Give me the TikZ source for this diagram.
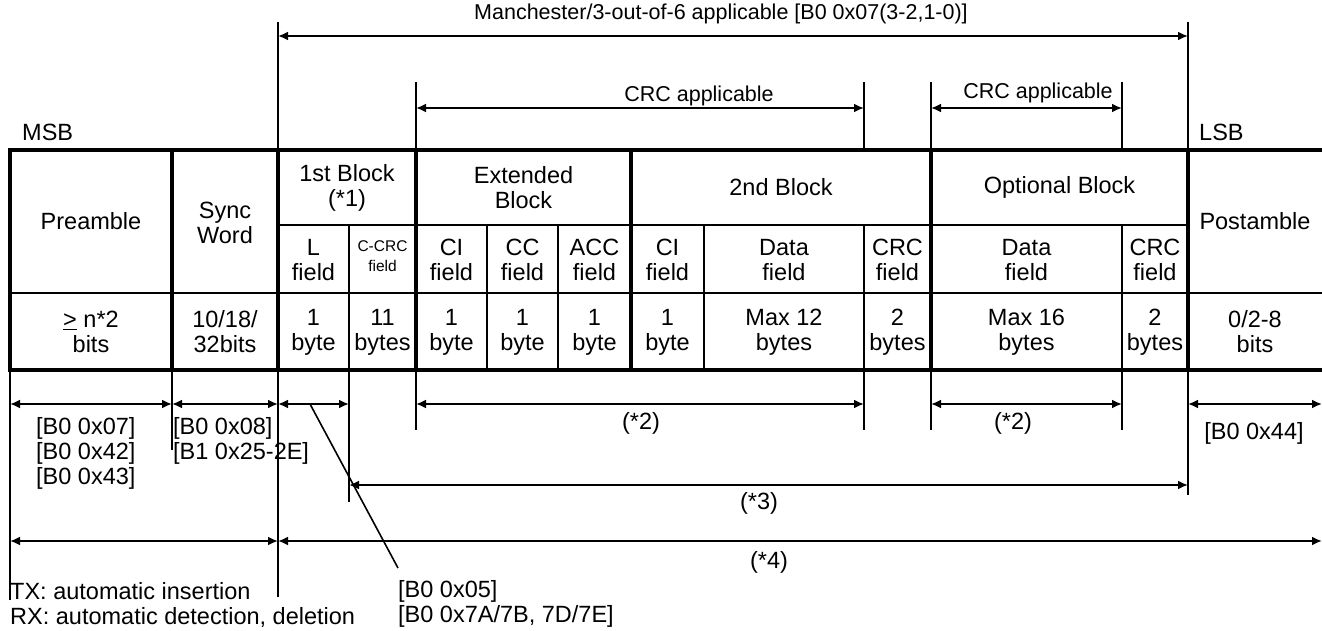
\documentclass[tikz,border=0pt]{standalone}
\usepackage{fontspec}
\setmainfont{Liberation Sans}
\usetikzlibrary{arrows.meta, positioning}
\tikzstyle{cell} = [align=center, inner sep=0pt, font=\fontsize{23.5}{25}\selectfont]
\tikzstyle{smallcell} = [align=center, inner sep=0pt, font=\fontsize{15.5}{20}\selectfont]
\tikzstyle{note} = [align=left, inner sep=0pt, anchor=north west, font=\fontsize{23.5}{25}\selectfont]
\tikzstyle{label} = [inner sep=0pt, font=\fontsize{23.5}{25}\selectfont]
\tikzstyle{toplabel} = [inner sep=0pt, font=\fontsize{21.5}{25}\selectfont]
\tikzstyle{frame} = [line width=4pt]
\tikzstyle{grid} = [line width=1.6pt]
\tikzstyle{guide} = [line width=1.8pt]
\tikzstyle{dim} = [line width=2.2pt, {Latex[length=10pt,width=9pt]}-{Latex[length=10pt,width=9pt]}]

\begin{document}
\begin{tikzpicture}[x=1pt, y=-1pt]
    \useasboundingbox (0,0) rectangle (1322,631);

    % Frame and block borders
    \draw [frame] (1322,150) -- (10,150) -- (10,370) -- (1322,370);
    \foreach \x in {172, 278, 416, 631, 931, 1188}
        \draw [frame] (\x,150) -- (\x,370);
    \draw [grid] (278,225) -- (1188,225);
    \draw [grid] (10,293) -- (1322,293);
    \foreach \x in {349, 487, 558, 704, 864, 1122}
        \draw [grid] (\x,225) -- (\x,370);

    % Guide lines above
    \draw [guide] (278,22) -- (278,150);
    \draw [guide] (1188,22) -- (1188,150);
    \foreach \x in {416, 864, 931, 1122}
        \draw [guide] (\x,82) -- (\x,150);

    % Guide lines below
    \draw [guide] (10,370) -- (10,600);
    \draw [guide] (172,370) -- (172,450);
    \draw [guide] (278,370) -- (278,597);
    \draw [guide] (349,370) -- (349,502);
    \foreach \x in {416, 864, 931, 1122}
        \draw [guide] (\x,370) -- (\x,430);
    \draw [guide] (1188,370) -- (1188,495);

    % Header cells
    \node (pre) [cell] at (91,221.5) {Preamble};
    \node (sync) [cell] at (225,223) {Sync\\Word};
    \node (blk1) [cell] at (347,187.5) {1st Block\\(*1)};
    \node (ext) [cell] at (523.5,187.5) {Extended\\Block};
    \node (blk2) [cell] at (781,187.5) {2nd Block};
    \node (opt) [cell] at (1059.5,187.5) {Optional Block};
    \node (post) [cell] at (1255,221.5) {Postamble};

    % Field cells
    \node (lf) [cell] at (313.5,260) {L\\field};
    \node (ccrc) [smallcell] at (382.5,256) {C-CRC\\field};
    \node (ci1) [cell] at (451.5,260) {CI\\field};
    \node (cc) [cell] at (522.5,260) {CC\\field};
    \node (acc) [cell] at (594.5,260) {ACC\\field};
    \node (ci2) [cell] at (667.5,260) {CI\\field};
    \node (data2) [cell] at (784,260) {Data\\field};
    \node (crc2) [cell] at (897.5,260) {CRC\\field};
    \node (data3) [cell] at (1026.5,260) {Data\\field};
    \node (crc3) [cell] at (1155,260) {CRC\\field};

    % Size cells
    \node (szpre) [cell] at (91,332) {\underline{>} n*2\\bits};
    \node (szsync) [cell] at (225,332) {10/18/\\32bits};
    \node (szlf) [cell] at (313.5,332) {1\\byte};
    \node (szccrc) [cell] at (382.5,332) {11\\bytes};
    \node (szci1) [cell] at (451.5,332) {1\\byte};
    \node (szcc) [cell] at (522.5,332) {1\\byte};
    \node (szacc) [cell] at (594.5,332) {1\\byte};
    \node (szci2) [cell] at (667.5,332) {1\\byte};
    \node (szdata2) [cell] at (784,332) {Max 12\\bytes};
    \node (szcrc2) [cell] at (897.5,332) {2\\bytes};
    \node (szdata3) [cell] at (1026.5,332) {Max 16\\bytes};
    \node (szcrc3) [cell] at (1155,332) {2\\bytes};
    \node (szpost) [cell] at (1255,332) {0/2-8\\bits};

    % Top ranges
    \draw [dim] (278,36) -- (1188,36);
    \node (manch) [toplabel] at (721,14) {Manchester/3-out-of-6 applicable [B0 0x07(3-2,1-0)]};
    \draw [dim] (416,108) -- (864,108);
    \node (crcapp1) [toplabel] at (699,96) {CRC applicable};
    \draw [dim] (931,108) -- (1122,108);
    \node (crcapp2) [toplabel] at (1038,93) {CRC applicable};
    \node (msb) [label, anchor=west] at (22,132) {MSB};
    \node (lsb) [label, anchor=west] at (1199,132) {LSB};

    % Bottom ranges
    \draw [dim] (10,404) -- (172,404);
    \draw [dim] (172,404) -- (278,404);
    \draw [dim] (278,404) -- (349,404);
    \draw [dim] (416,404) -- (864,404);
    \draw [dim] (931,404) -- (1122,404);
    \draw [dim] (1188,404) -- (1322,404);
    \draw [dim] (349,485) -- (1188,485);
    \draw [dim] (10,541) -- (278,541);
    \draw [dim] (278,541) -- (1322,541);

    % Register notes
    \node (regpre) [note] at (36,417) {[B0 0x07]\\{}[B0 0x42]\\{}[B0 0x43]};
    \node (regsync) [note] at (173,417) {[B0 0x08]\\{}[B1 0x25-2E]};
    \node (star2a) [label] at (641,423) {(*2)};
    \node (star2b) [label] at (1013,423) {(*2)};
    \node (regpost) [label] at (1254,433) {[B0 0x44]};
    \node (star3) [label] at (759,503) {(*3)};
    \node (star4) [label] at (769,562) {(*4)};
    \node (reglf) [note] at (398,580) {[B0 0x05]\\{}[B0 0x7A/7B, 7D/7E]};
    \node (txrx) [note] at (10,582) {TX: automatic insertion\\RX: automatic detection, deletion};

    % Leader to L field
    \coordinate (lfmark) at (310,404);
    \draw [grid] (lfmark) -- ([yshift=12pt]reglf.north west);
\end{tikzpicture}
\end{document}
